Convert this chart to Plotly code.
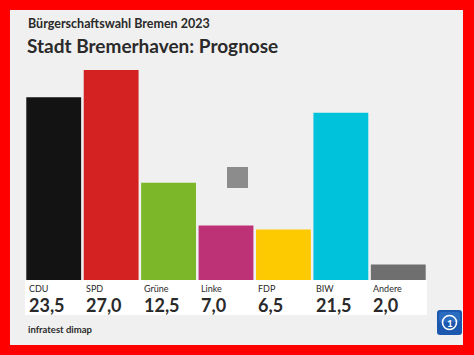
import plotly.graph_objects as go

parties = ["CDU", "SPD", "Grüne", "Linke", "FDP", "BIW", "Andere"]
values = [23.5, 27.0, 12.5, 7.0, 6.5, 21.5, 2.0]
value_labels = ["23,5", "27,0", "12,5", "7,0", "6,5", "21,5", "2,0"]
colors = ["#131313", "#d42121", "#7cb72a", "#bd3176", "#fdc900", "#00c3db", "#6f6f6f"]
supertitle = "Bürgerschaftswahl Bremen 2023"
title = "Stadt Bremerhaven: Prognose"
source = "infratest dimap"

W, H = 474, 355
L, R, T, B = 25, 427, 70, 280  # plot area in pixels

def px(x):
    return (x - L) / (R - L)

def py(y):
    return (B - y) / (B - T)

def rounded_rect(x0, y0, x1, y1, r):
    pts = [
        f"M {px(x0 + r)},{py(y0)}", f"L {px(x1 - r)},{py(y0)}",
        f"Q {px(x1)},{py(y0)} {px(x1)},{py(y0 + r)}", f"L {px(x1)},{py(y1 - r)}",
        f"Q {px(x1)},{py(y1)} {px(x1 - r)},{py(y1)}", f"L {px(x0 + r)},{py(y1)}",
        f"Q {px(x0)},{py(y1)} {px(x0)},{py(y1 - r)}", f"L {px(x0)},{py(y0 + r)}",
        f"Q {px(x0)},{py(y0)} {px(x0 + r)},{py(y0)}", "Z",
    ]
    return " ".join(pts)

FONT = "Lato"
TXT = "#2a2a2a"

fig = go.Figure(go.Bar(
    x=list(range(len(parties))), y=values, marker=dict(color=colors, line=dict(width=0)),
    hoverinfo="skip"))

shapes = [
    dict(type="rect", xref="paper", yref="paper", x0=px(10), x1=px(463), y0=py(345), y1=py(10),
         fillcolor="#f0f0f0", line=dict(width=0), layer="below"),
    dict(type="rect", xref="paper", yref="paper", x0=px(25), x1=px(427), y0=py(315), y1=py(280),
         fillcolor="#ffffff", line=dict(width=0), layer="below"),
    dict(type="rect", xref="paper", yref="paper", x0=px(227), x1=px(248), y0=py(188), y1=py(167),
         fillcolor="#8c8c8c", line=dict(width=0), layer="above"),
    dict(type="path", xref="paper", yref="paper", path=rounded_rect(437, 310, 462, 335, 3),
         fillcolor="#1c58ad", line=dict(width=0), layer="above"),
    dict(type="path", xref="paper", yref="paper", path=rounded_rect(439, 312, 460, 322, 2),
         fillcolor="#3a86d6", opacity=0.45, line=dict(width=0), layer="above"),
    dict(type="circle", xref="paper", yref="paper", x0=px(442.5), x1=px(456.5), y0=py(329.5), y1=py(315.5),
         fillcolor="rgba(0,0,0,0)", line=dict(width=1.6, color="#ffffff"), layer="above"),
]

ann = [
    dict(text=supertitle, x=px(26), y=py(24), xanchor="left", yanchor="middle",
         font=dict(size=12.5, family=FONT, color=TXT, weight="bold")),
    dict(text=title, x=px(25), y=py(45), xanchor="left", yanchor="middle",
         font=dict(size=19, family=FONT, color=TXT, weight="bold")),
    dict(text=source, x=px(26), y=py(329), xanchor="left", yanchor="middle",
         font=dict(size=9.5, family=FONT, color=TXT, weight="bold")),
    dict(text="1", x=px(449.5), y=py(322.5), xanchor="center", yanchor="middle",
         font=dict(size=10, family=FONT, color="#ffffff", weight="bold")),
]
for i, (p, v) in enumerate(zip(parties, value_labels)):
    ann.append(dict(text=p, xref="x", x=i - 0.47, y=py(288), xanchor="left", yanchor="middle",
                    font=dict(size=9, family=FONT, color=TXT)))
    ann.append(dict(text=v, xref="x", x=i - 0.47, y=py(305), xanchor="left", yanchor="middle",
                    font=dict(size=18, family=FONT, color=TXT, weight="bold")))
for a in ann:
    a.setdefault("xref", "paper")
    a["yref"] = "paper"
    a["showarrow"] = False

fig.update_layout(
    width=W, height=H,
    margin=dict(l=L, r=W - R, t=T, b=H - B, pad=0),
    paper_bgcolor="#ff0000", plot_bgcolor="rgba(0,0,0,0)",
    bargap=0.045, showlegend=False,
    xaxis=dict(range=[-0.5, 6.5], visible=False, fixedrange=True),
    yaxis=dict(range=[0, 27], visible=False, fixedrange=True),
    shapes=shapes, annotations=ann,
)
fig.write_html("out.html", config={"displayModeBar": False},
               post_script="document.body.style.margin='0';document.body.style.overflow='hidden';")
